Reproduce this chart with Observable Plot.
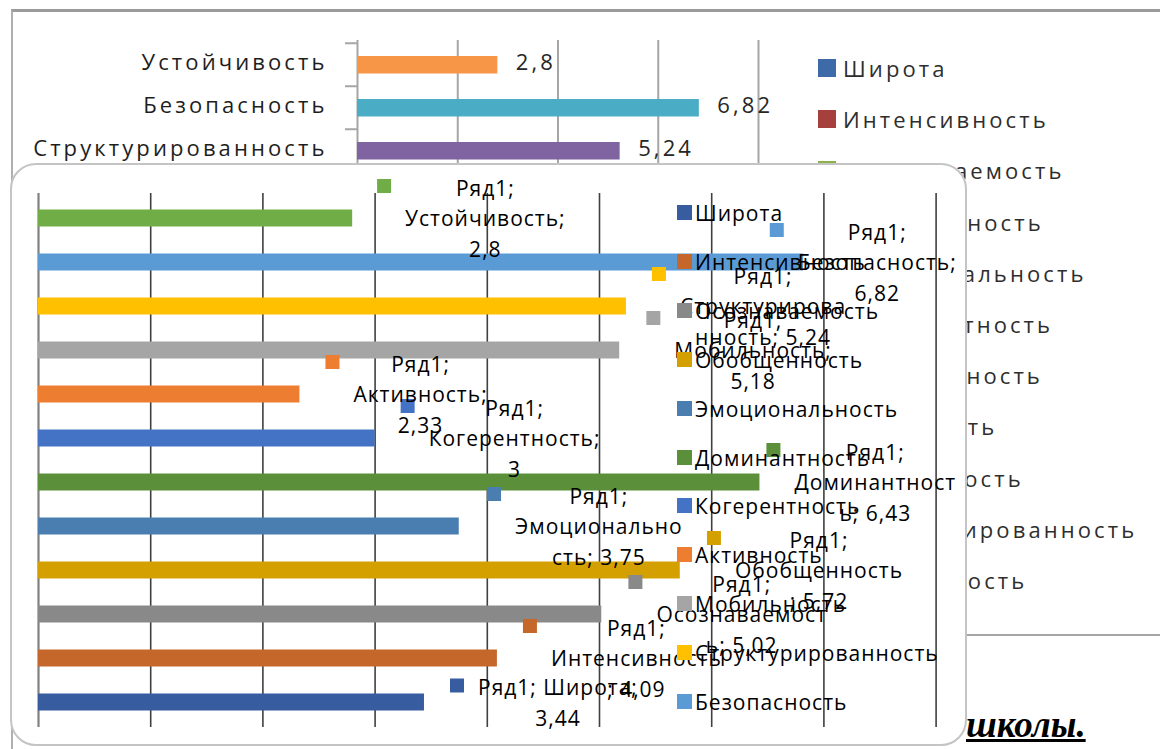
<!DOCTYPE html>
<html><head><meta charset="utf-8">
<script src="https://cdn.jsdelivr.net/npm/d3@7"></script>
<script src="https://cdn.jsdelivr.net/npm/@observablehq/plot@0.6"></script>
<style>
body{margin:0;background:#fff;}
#page{position:relative;width:1160px;height:749px;overflow:hidden;background:#fff;}
.abs{position:absolute;left:0;top:0;}
#bgframe{position:absolute;left:11px;top:9px;width:1200px;height:800px;border-top:3px solid #9a9a9a;border-left:2px solid #b0b0b0;box-sizing:border-box;}
#bgline{position:absolute;left:966px;top:634px;width:200px;height:0;border-top:2px solid #a6a6a6;}
#bg text{letter-spacing:3.1px;}
#box{position:absolute;left:10px;top:163px;width:957px;height:583px;border:2px solid #c4c4c4;border-radius:26px;background:#fff;box-sizing:border-box;}
.leg{position:absolute;white-space:nowrap;}
.leg .sw{position:absolute;left:0;}
.bgleg{font-family:"Open Sans";font-size:22px;letter-spacing:3.1px;color:#2e2e2e;}
.fgleg{font-family:"Open Sans";font-size:21px;letter-spacing:1px;color:#000;}
#skoly{position:absolute;left:966px;top:706px;font-family:"Liberation Serif";font-weight:bold;font-style:italic;font-size:37px;text-decoration:underline;color:#000;line-height:1;}
</style></head><body><div id="page"></div>
<script>
// ---- data ----
const categories = ["Устойчивость","Безопасность","Структурированность","Мобильность","Активность","Когерентность","Доминантность","Эмоциональность","Обобщенность","Осознаваемость","Интенсивность","Широта"];
const values = [2.8, 6.82, 5.24, 5.18, 2.33, 3, 6.43, 3.75, 5.72, 5.02, 4.09, 3.44];
const valueLabels = ["2,8","6,82","5,24","5,18","2,33","3","6,43","3,75","5,72","5,02","4,09","3,44"];
const fgColors = ["#70ad47","#5b9bd5","#ffc000","#a5a5a5","#ed7d31","#4472c4","#5b8f3a","#4a7eb0","#d4a000","#898989","#c5672b","#375c9f"];
const bgColors = ["#f79646","#4bacc6","#8064a2","#9bbb59","#c0504d","#4f81bd","#d9802f","#3b91a8","#6a5288","#8db24c","#a5403d","#3f6aa8"];
const seriesName = "Ряд1";
const labelText = [
  "Ряд1;\nУстойчивость;\n2,8",
  "Ряд1;\nБезопасность;\n6,82",
  "Ряд1;\nСтруктурирова\nнность; 5,24",
  "Ряд1;\nМобильность;\n5,18",
  "Ряд1;\nАктивность;\n2,33",
  "Ряд1;\nКогерентность;\n3",
  "Ряд1;\nДоминантност\nь; 6,43",
  "Ряд1;\nЭмоционально\nсть; 3,75",
  "Ряд1;\nОбобщенность\n; 5,72",
  "Ряд1;\nОсознаваемост\nь; 5,02",
  "Ряд1;\nИнтенсивность\n; 4,09",
  "Ряд1; Широта;\n3,44"
];
const labelX = [3.08, 6.58, 5.53, 5.48, 2.62, 3.29, 6.55, 4.06, 6.02, 5.32, 4.38, 3.73];
const legendOrder = ["Широта","Интенсивность","Осознаваемость","Обобщенность","Эмоциональность","Доминантность","Когерентность","Активность","Мобильность","Структурированность","Безопасность"];
const bgTicks = [0, 2, 4, 6, 8];
const fgTicks = [1, 2, 3, 4, 5, 6, 7, 8];
const bottomText = "школы.";

// ---- build ----
const page = document.getElementById("page");
const fgColor = new Map(categories.map((c, i) => [c, fgColors[i]]));
const bgColor = new Map(categories.map((c, i) => [c, bgColors[i]]));

const frame = document.createElement("div"); frame.id = "bgframe"; page.appendChild(frame);

const bgData = categories.map((c, i) => ({cat: c, v: values[i], label: valueLabels[i], color: bgColors[i]}));
const bg = Plot.plot({
  width: 760, height: 600, marginLeft: 357, marginRight: 2, marginTop: 40, marginBottom: 38,
  x: {domain: [0, 8], axis: null},
  y: {domain: categories, padding: 0, axis: null},
  style: {fontFamily: "Open Sans", fontSize: "22px", color: "#262626", overflow: "visible", background: "transparent"},
  marks: [
    Plot.gridX(bgTicks, {stroke: "#a6a6a6", strokeOpacity: 1, strokeWidth: 2}),
    Plot.ruleY(categories, {y: d => d, x1: -0.24, x2: 0, dy: -21.75, stroke: "#a6a6a6", strokeWidth: 2}),
    Plot.barX(bgData, {y: "cat", x: "v", fill: "color", insetTop: 13, insetBottom: 12.5}),
    Plot.axisY({tickSize: 0, tickPadding: 30, fontSize: 22, fill: "#1e1e1e", label: null, dy: -2}),
    Plot.text(bgData, {y: "cat", x: "v", text: "label", dx: 18, dy: -2, textAnchor: "start", fontSize: 22, fill: "#262626"})
  ]
});
bg.id = "bg"; bg.classList.add("abs"); bg.style.maxWidth = "none";
page.appendChild(bg);

legendOrder.forEach((c, i) => {
  const d = document.createElement("div");
  d.className = "leg bgleg";
  d.style.left = "818px"; d.style.top = (68 + 51.2 * i - 15) + "px"; d.style.height = "30px"; d.style.lineHeight = "30px";
  d.innerHTML = `<span class="sw" style="top:6px;width:18px;height:18px;background:${bgColor.get(c)}"></span><span style="padding-left:25px">${c}</span>`;
  page.appendChild(d);
});
const bl = document.createElement("div"); bl.id = "bgline"; page.appendChild(bl);

const box = document.createElement("div"); box.id = "box"; page.appendChild(box);

// measure label widths
const ctx = document.createElement("canvas").getContext("2d");
const FS = 21, LS = 1, LH = 31;
ctx.font = `${FS}px "Open Sans"`;
const measure = s => ctx.measureText(s).width + LS * s.length;

const fgData = categories.map((c, i) => {
  const lines = labelText[i].split("\n");
  const w = Math.max(...lines.map(measure));
  const mdy = -(lines.length * LH) / 2 + 14;
  return {cat: c, v: values[i], color: fgColors[i], lx: labelX[i], text: labelText[i], w, mdy};
});

const fg = Plot.plot({
  width: 1000, height: 749, marginLeft: 38, marginRight: 1000 - 935.6, marginTop: 193, marginBottom: 22,
  x: {domain: [0, 8], axis: null},
  y: {domain: categories, padding: 0, axis: null},
  style: {fontFamily: "Open Sans", fontSize: FS + "px", color: "#000", overflow: "visible", background: "transparent"},
  marks: [
    Plot.gridX(fgTicks, {stroke: "#404040", strokeOpacity: 1, strokeWidth: 1.6}),
    Plot.ruleX([0], {stroke: "#808080", strokeWidth: 2.2}),
    Plot.barX(fgData, {y: "cat", x: "v", fill: "color", insetTop: 13.5, insetBottom: 13.5}),
    ...fgData.map(d => Plot.dot([d], {y: "cat", x: "lx", symbol: "square", r: 7.9, fill: "color", dy: d.mdy})),
    ...fgData.map(d => Plot.text([d], {y: "cat", x: "lx", text: "text", lineAnchor: "top", lineHeight: 30.5 / FS,
      textAnchor: "middle", dx: 7 + 14 + d.w / 2, dy: d.mdy - 12, fill: "#000", fontSize: FS}))
  ]
});
fg.id = "fg"; fg.classList.add("abs"); fg.style.maxWidth = "none";
fg.querySelectorAll("text").forEach(t => t.style.letterSpacing = LS + "px");
page.appendChild(fg);

legendOrder.forEach((c, i) => {
  const d = document.createElement("div");
  d.className = "leg fgleg";
  d.style.left = "677px"; d.style.top = (213 + 48.9 * i - 14) + "px"; d.style.height = "28px"; d.style.lineHeight = "28px";
  d.innerHTML = `<span class="sw" style="top:6px;width:15px;height:15px;background:${fgColor.get(c)}"></span><span style="padding-left:18px">${c}</span>`;
  page.appendChild(d);
});

const sk = document.createElement("div"); sk.id = "skoly"; sk.textContent = bottomText; page.appendChild(sk);
</script>
</body></html>
